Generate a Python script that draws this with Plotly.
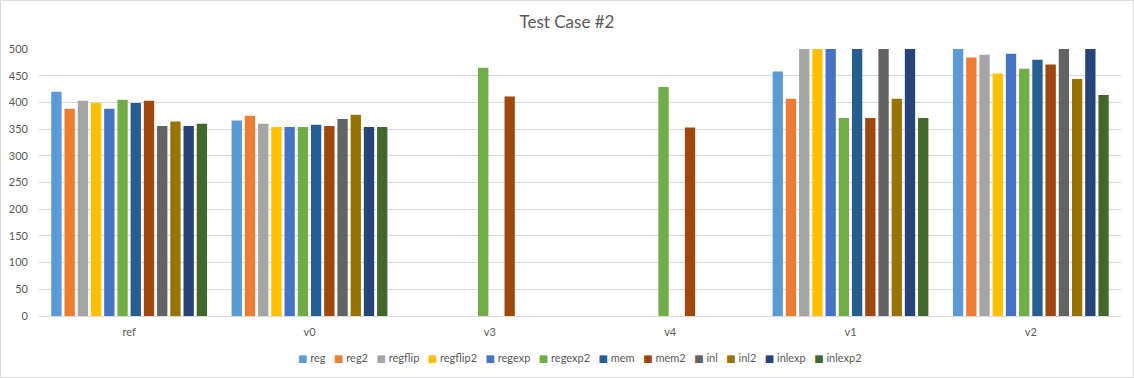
import plotly.graph_objects as go

categories = ["ref", "v0", "v3", "v4", "v1", "v2"]
series_names = ["reg", "reg2", "regflip", "regflip2", "regexp", "regexp2",
                "mem", "mem2", "inl", "inl2", "inlexp", "inlexp2"]
# values per series across categories (None = no bar); values at 500 are clipped by the axis
reg      = [420, 366, None, None, 458, 500]
reg2     = [388, 375, None, None, 407, 484]
regflip  = [403, 360, None, None, 500, 489]
regflip2 = [399, 354, None, None, 500, 454]
regexp   = [388, 354, None, None, 500, 491]
regexp2  = [405, 354, 465, 429, 371, 463]
mem      = [399, 358, None, None, 500, 480]
mem2     = [403, 356, 411, 353, 371, 471]
inl      = [356, 369, None, None, 500, 500]
inl2     = [364, 377, None, None, 407, 444]
inlexp   = [356, 354, None, None, 500, 500]
inlexp2  = [360, 354, None, None, 371, 414]

series_values = [reg, reg2, regflip, regflip2, regexp, regexp2,
                 mem, mem2, inl, inl2, inlexp, inlexp2]
colors = ["#5B9BD5", "#ED7D31", "#A5A5A5", "#FFC000", "#4472C4", "#70AD47",
          "#255E91", "#9E480E", "#636363", "#997300", "#264478", "#43682B"]

fig = go.Figure()
for name, vals, c in zip(series_names, series_values, colors):
    fig.add_trace(go.Bar(name=name, x=categories, y=vals, marker_color=c,
                         marker_line_width=0, showlegend=False))

font_family = "Lato, Liberation Sans, sans-serif"
W, H = 1134, 378
ML, MR, MT, MB = 39, 13, 49, 62
pw, ph = W - ML - MR, H - MT - MB

# compact Excel-like legend built from the series names and colours
sep = "\u00a0" * 3
legend_text = sep.join(
    f"<span style='color:{c};font-size:10px;font-family:DejaVu Sans'>■</span>\u00a0{n}"
    for n, c in zip(series_names, colors))

fig.update_layout(
    width=W, height=H,
    barmode="group", bargap=0.12, bargroupgap=0.22,
    paper_bgcolor="white", plot_bgcolor="white",
    margin=dict(l=ML, r=MR, t=MT, b=MB, autoexpand=False),
    title=dict(text="Test Case #2", x=0.5, xanchor="center", y=1 - 22 / H, yanchor="middle",
               font=dict(family=font_family, size=17, color="#595959")),
    font=dict(family=font_family, size=11, color="#595959"),
    showlegend=False,
    yaxis=dict(range=[0, 500], dtick=50, showgrid=True, gridcolor="#D9D9D9",
               gridwidth=1, zeroline=False, ticks="", tickfont=dict(size=11, color="#595959"),
               ticklabelstandoff=10, automargin=False),
    xaxis=dict(showline=True, linecolor="#D9D9D9", linewidth=1, ticks="",
               tickfont=dict(size=11, color="#595959"), ticklabelstandoff=6,
               automargin=False),
    annotations=[dict(text=legend_text, xref="paper", yref="paper", x=0.5, xanchor="center",
                      y=-(357 - (H - MB)) / ph, yanchor="middle",
                      showarrow=False, font=dict(family=font_family, size=11, color="#595959"))],
)
fig.add_shape(type="rect", xref="paper", yref="paper",
              x0=-(ML - 0.5) / pw, x1=1 + (MR - 0.5) / pw,
              y0=-(MB - 0.5) / ph, y1=1 + (MT - 0.5) / ph,
              line=dict(color="#D9D9D9", width=1))
fig.write_html("out.html", config={"displayModeBar": False},
               post_script="document.body.style.margin='0px';")
